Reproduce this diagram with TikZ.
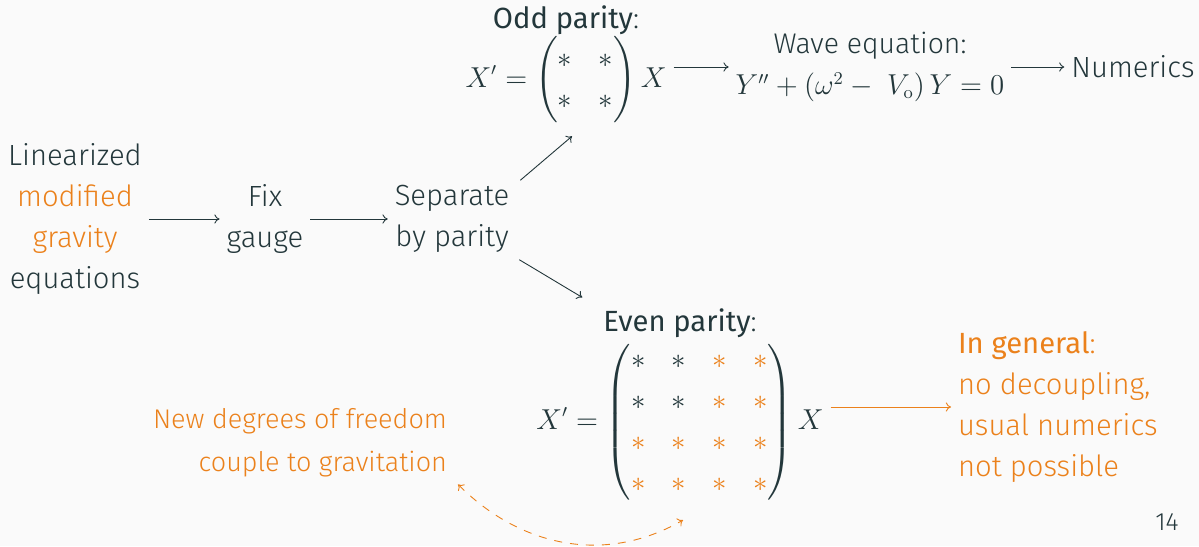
\documentclass[tikz,border=0pt]{standalone}
\usepackage{amsmath}
\usepackage[no-math]{fontspec}
\setmainfont{Fira Sans Light}[BoldFont={Fira Sans}]
\usetikzlibrary{arrows.meta,positioning,calc}

\definecolor{mDark}{HTML}{23373B}
\definecolor{mAlert}{HTML}{EB811B}
\definecolor{mBg}{HTML}{FAFAFA}
\newcommand{\hl}[1]{\textcolor{mAlert}{#1}}

\begin{document}
\begin{tikzpicture}[
      x=0.5pt,y=0.5pt,
      every node/.style={align=center,text=mDark,font=\fontsize{14.6}{20.5}\selectfont},
      eq/.style={font=\fontsize{13.5}{20.5}\selectfont},
      >={To[length=2.6pt,width=4.6pt]},
      flow/.style={->,draw=mDark,line width=0.45pt},
      side/.style={text=mAlert}
    ]
      \useasboundingbox (0,0) rectangle (1199,-546);
      \fill[mBg] (0,0) rectangle (1199,-546);
      % main chain
      \node (lin) at (75,-219) {Linearized\\\hl{modified}\\\hl{gravity}\\equations};
      \node (fix) at (265,-219) {Fix\\gauge};
      \node (sep) at (452,-219) {Separate\\by parity};
      \draw[flow] (lin) -- (fix);
      \draw[flow] (fix) -- (sep);
      % odd branch
      \node (oddeq) [eq] at (566,-80) {$\displaystyle \setlength{\arraycolsep}{6.6pt}X'=\begin{pmatrix}\ast&\ast\\\ast&\ast\end{pmatrix}X$};
      \node (odd) at (566,-20) {\textbf{Odd parity}:};
      \node (wave) at (870,-67) {{\fontsize{14.2}{20.5}\selectfont Wave equation:}\\{\fontsize{13.5}{20.5}\selectfont$Y''+(\omega^2-\;V_{\mathrm{o}})\,Y=0$}};
      \node (num) at (1133,-67) {Numerics};
      \draw[flow] ([shift={(4,-2)}]sep.north east) -- ([shift={(6,-6)}]oddeq.south);
      \draw[flow] (oddeq.east |- wave.west) -- (wave.west);
      \draw[flow] (wave) -- (num);
      % even branch
      \node (eveneq) [eq] at (680,-422) {$\displaystyle \setlength{\arraycolsep}{6.6pt}X'=\begin{pmatrix}\ast&\ast&\hl{\ast}&\hl{\ast}\\\ast&\ast&\hl{\ast}&\hl{\ast}\\\hl{\ast}&\hl{\ast}&\hl{\ast}&\hl{\ast}\\\hl{\ast}&\hl{\ast}&\hl{\ast}&\hl{\ast}\end{pmatrix}X$};
      \node (even) at (680,-323) {\textbf{Even parity}:};
      \node (gen) [side,anchor=west,align=left] at (951,-407) {\textbf{In general}:\\no decoupling,\\usual numerics\\not possible};
      \node (newdof) [side,anchor=east,align=right,font=\fontsize{13.5}{21.5}\selectfont] at (454,-443) {New degrees of freedom\\couple to gravitation};
      \draw[flow] ([shift={(3,0)}]sep.south east) -- ([shift={(-14,4)}]even.north west);
      \draw[flow,draw=mAlert] (eveneq.east |- gen.west) -- (gen.west);
      \draw[<->,draw=mAlert,line width=0.45pt,dash pattern=on 4pt off 4pt] ([shift={(4,0)}]newdof.south east) to[out=-45,in=210] ([shift={(3,-9)}]eveneq.south);
      % slide number
      \node (page) at (1167,-522) {\fontsize{12.5}{14}\selectfont 14};
    \end{tikzpicture}
\end{document}
